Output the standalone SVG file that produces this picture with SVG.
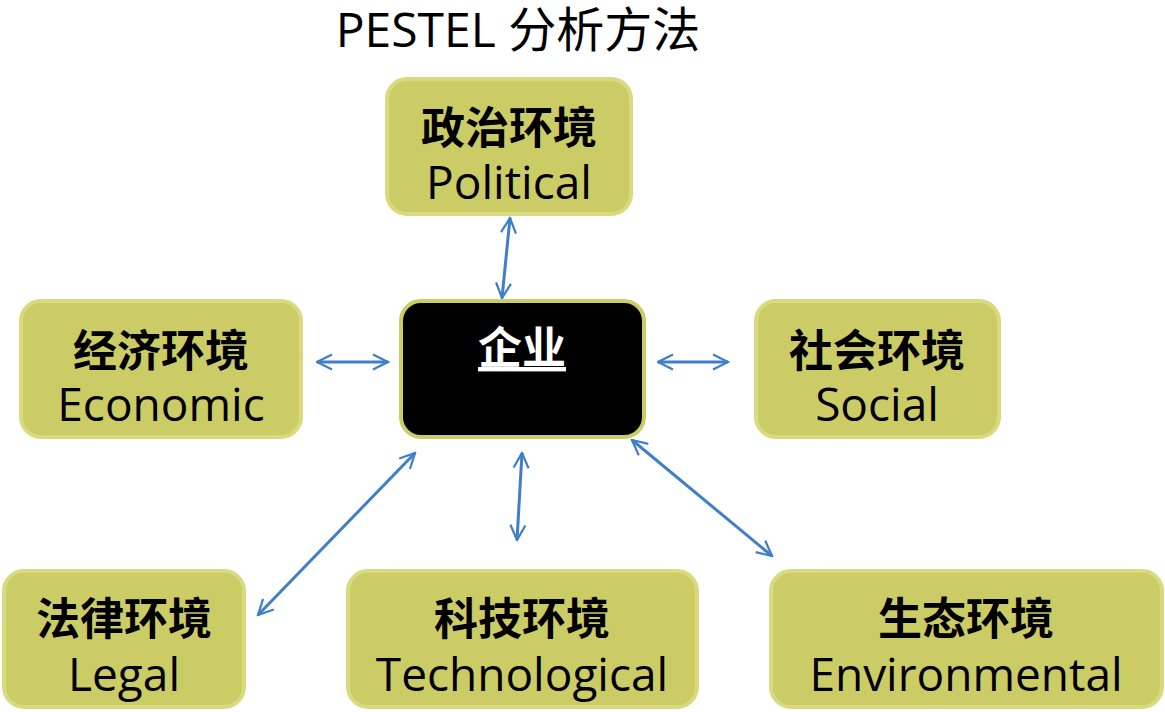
<svg xmlns="http://www.w3.org/2000/svg" width="1165" height="712" viewBox="0 0 1165 712">
<defs>
<style>
.b{fill:#CCCC66;stroke:#D9D97F;stroke-width:4}
.zh{font-family:"Noto Sans CJK SC",sans-serif;font-weight:bold;font-size:44px;fill:#000;text-anchor:middle}
.en{font-family:"Open Sans","Noto Sans",sans-serif;font-size:46px;fill:#000;text-anchor:middle}
.c line{stroke:#3F7FC8;stroke-width:3;marker-start:url(#a);marker-end:url(#a)}
</style>
<marker id="a" viewBox="0 0 12 12" refX="11" refY="6" markerWidth="6" markerHeight="6" orient="auto-start-reverse" markerUnits="strokeWidth"><path d="M1,1 L11,6 L1,11" fill="none" stroke="#3F7FC8" stroke-width="1.5"/></marker>
</defs>
<rect width="1165" height="712" fill="#fff"/>
<text x="518" y="47" font-family="'Open Sans','Noto Sans CJK SC',sans-serif" font-size="48" text-anchor="middle">PESTEL 分析方法</text>
<g class="c">
<line x1="510" y1="218" x2="502" y2="298"/>
<line x1="317" y1="362" x2="388" y2="362"/>
<line x1="658" y1="362" x2="728" y2="362"/>
<line x1="415" y1="453" x2="258" y2="615"/>
<line x1="522" y1="453" x2="517" y2="540"/>
<line x1="632" y1="440" x2="772" y2="556"/>
</g>
<g id="political"><rect class="b" x="387" y="79" width="244" height="135" rx="20"/><text class="zh" x="509" y="144">政治环境</text><text class="en" x="509" y="199">Political</text></g>
<g id="economic"><rect class="b" x="21" y="301" width="280" height="136" rx="20"/><text class="zh" x="161" y="367">经济环境</text><text class="en" x="161" y="421">Economic</text></g>
<g id="center"><rect x="401" y="301" width="243" height="136" rx="20" fill="#000" stroke="#CCCC66" stroke-width="4"/><text x="522" y="364" font-family="'Noto Sans CJK SC',sans-serif" font-weight="bold" font-size="44" fill="#fff" text-anchor="middle" text-decoration="underline">企业</text></g>
<g id="social"><rect class="b" x="756" y="301" width="243" height="136" rx="20"/><text class="zh" x="877" y="367">社会环境</text><text class="en" x="877" y="421">Social</text></g>
<g id="legal"><rect class="b" x="4" y="571" width="240" height="136" rx="20"/><text class="zh" x="124" y="635">法律环境</text><text class="en" x="124" y="691">Legal</text></g>
<g id="tech"><rect class="b" x="348" y="571" width="349" height="136" rx="20"/><text class="zh" x="522" y="635">科技环境</text><text class="en" x="522" y="691">Technological</text></g>
<g id="env"><rect class="b" x="771" y="571" width="391" height="136" rx="20"/><text class="zh" x="966" y="635">生态环境</text><text class="en" x="966" y="691">Environmental</text></g>
</svg>
